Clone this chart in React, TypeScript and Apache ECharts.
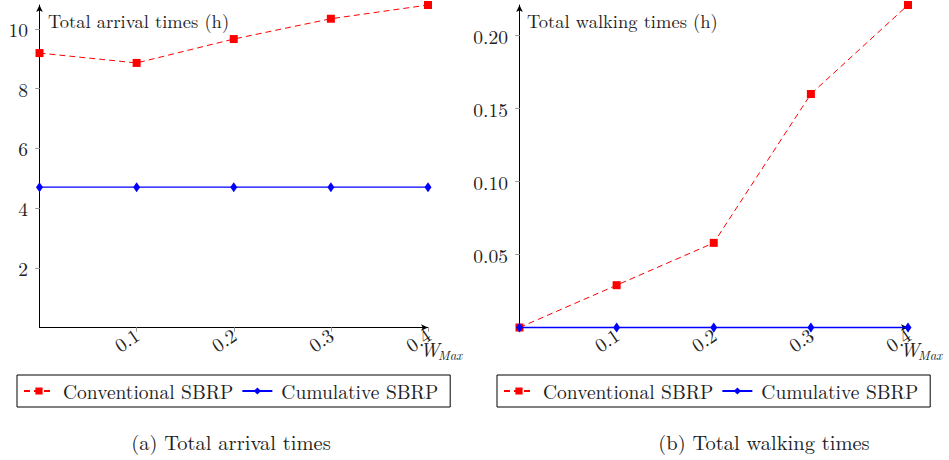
import React, { useEffect, useRef } from "react";
import * as echarts from "echarts";

const xValues = [0, 0.1, 0.2, 0.3, 0.4];
const xTickValues = [0.1, 0.2, 0.3, 0.4];
const arrivalConventional = [9.19, 8.86, 9.66, 10.34, 10.8];
const arrivalCumulative = [4.7, 4.7, 4.7, 4.7, 4.7];
const walkingConventional = [0, 0.029, 0.058, 0.16, 0.221];
const walkingCumulative = [0, 0, 0, 0, 0];
const arrivalTicks = [2, 4, 6, 8, 10];
const walkingTicks = [0.05, 0.1, 0.15, 0.2];
const seriesNames = ["Conventional SBRP", "Cumulative SBRP"];

const FONT = "Latin Modern Roman";
const TXT = "#222";
const FS = 19.5;

function pairs(ys: number[]) {
  return xValues.map((x, i) => [x, ys[i]]);
}

export default function App() {
  const ref = useRef<HTMLDivElement>(null);
  useEffect(() => {
    if (!ref.current) return;
    const chart = echarts.init(ref.current, null, { renderer: "svg" });

    const mainX = (gi: number) => ({
      type: "value",
      gridIndex: gi,
      min: 0,
      max: 0.4,
      interval: 0.1,
      splitLine: { show: false },
      axisLine: {
        show: true,
        lineStyle: { color: "#000", width: 1 },
        symbol: ["none", "arrow"],
        symbolSize: [5, 7],
      },
      axisTick: { show: true, length: 4, customValues: xTickValues, lineStyle: { color: "#999" } },
      axisLabel: {
        show: true,
        rotate: 34,
        margin: 5,
        customValues: xTickValues,
        fontFamily: FONT,
        fontSize: FS,
        color: TXT,
        formatter: (v: number) => v.toFixed(1),
      },
    });
    const innerX = (gi: number) => ({
      type: "value",
      gridIndex: gi,
      min: 0,
      max: 0.4,
      interval: 0.1,
      splitLine: { show: false },
      axisLine: { show: false },
      axisTick: { show: true, inside: true, length: 4, customValues: xTickValues, lineStyle: { color: "#999" } },
      axisLabel: { show: false },
    });
    const mainY = (gi: number, max: number, interval: number, ticks: number[], digits: number) => ({
      type: "value",
      gridIndex: gi,
      min: 0,
      max,
      interval,
      splitLine: { show: false },
      axisLine: {
        show: true,
        lineStyle: { color: "#000", width: 1 },
        symbol: ["none", "arrow"],
        symbolSize: [5, 7],
      },
      axisTick: { show: true, length: 4, customValues: ticks, lineStyle: { color: "#999" } },
      axisLabel: {
        show: true,
        margin: 11.5,
        customValues: ticks,
        fontFamily: FONT,
        fontSize: FS,
        color: TXT,
        formatter: (v: number) => v.toFixed(digits),
      },
    });
    const innerY = (gi: number, max: number, interval: number, ticks: number[]) => ({
      type: "value",
      gridIndex: gi,
      min: 0,
      max,
      interval,
      splitLine: { show: false },
      axisLine: { show: false },
      axisTick: { show: true, inside: true, length: 4, customValues: ticks, lineStyle: { color: "#999" } },
      axisLabel: { show: false },
    });

    const conv = (xi: number, yi: number, data: number[][]) => ({
      name: seriesNames[0],
      type: "line",
      xAxisIndex: xi,
      yAxisIndex: yi,
      data,
      clip: false,
      symbol: "rect",
      symbolSize: 8,
      itemStyle: { color: "#ff0000" },
      lineStyle: { color: "#ff0000", width: 1, type: [6, 4] },
      z: 3,
    });
    const cum = (xi: number, yi: number, data: number[][]) => ({
      name: seriesNames[1],
      type: "line",
      xAxisIndex: xi,
      yAxisIndex: yi,
      data,
      clip: false,
      symbol: "diamond",
      symbolSize: [7, 10],
      itemStyle: { color: "#0000ff" },
      lineStyle: { color: "#0000ff", width: 1.3 },
      z: 4,
    });

    const legendCommon = {
      orient: "horizontal",
      borderColor: "#000",
      borderWidth: 1,
      borderRadius: 0,
      padding: [6, 12, 6, 6],
      itemGap: 8,
      itemWidth: 30,
      itemHeight: 9,
      data: seriesNames,
      selectedMode: false,
      textStyle: { fontFamily: FONT, fontSize: FS, color: TXT, padding: [0, 0, 0, 4] },
    };

    const txt = (x: number, y: number, text: string, extra: any = {}) => ({
      type: "text",
      x,
      y,
      style: { text, fontFamily: FONT, fontSize: FS, fill: TXT, verticalAlign: "middle", ...extra },
    });

    chart.setOption({
      animation: false,
      backgroundColor: "#fff",
      grid: [
        { left: 39.5, top: 5, width: 388.5, height: 322.5, containLabel: false },
        { left: 519.5, top: 5, width: 388.5, height: 322.5, containLabel: false },
      ],
      xAxis: [mainX(0), mainX(1), innerX(0), innerX(1)],
      yAxis: [
        mainY(0, 10.8, 2, arrivalTicks, 0),
        mainY(1, 0.221, 0.05, walkingTicks, 2),
        innerY(0, 10.8, 2, arrivalTicks),
        innerY(1, 0.221, 0.05, walkingTicks),
      ],
      legend: [
        { ...legendCommon, left: 17, top: 375 },
        { ...legendCommon, left: 497, top: 375 },
      ],
      series: [
        conv(0, 0, pairs(arrivalConventional)),
        cum(0, 0, pairs(arrivalCumulative)),
        conv(1, 1, pairs(walkingConventional)),
        cum(1, 1, pairs(walkingCumulative)),
      ],
      graphic: [
        txt(48, 20, "Total arrival times (h)", { fontSize: 18.5 }),
        txt(527, 20, "Total walking times (h)", { fontSize: 18.5 }),
        txt(420, 349, "W", { fontStyle: "italic" }),
        txt(438, 354, "Max", { fontStyle: "italic", fontSize: 13 }),
        txt(900, 349, "W", { fontStyle: "italic" }),
        txt(918, 354, "Max", { fontStyle: "italic", fontSize: 13 }),
        txt(231, 441, "(a) Total arrival times", { align: "center", fontSize: 20.5 }),
        txt(764, 441, "(b) Total walking times", { align: "center", fontSize: 20.5 }),
      ],
    });
    return () => chart.dispose();
  }, []);
  return <div ref={ref} style={{ position: "absolute", left: 0, top: 0, width: 949, height: 460 }} />;
}
